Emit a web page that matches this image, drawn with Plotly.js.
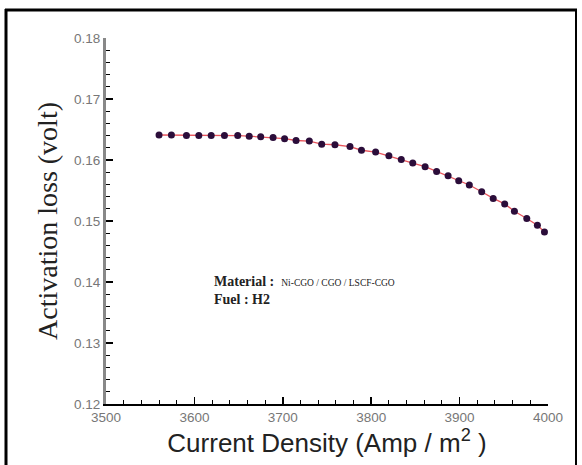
<!DOCTYPE html>
<html>
<head>
<meta charset="utf-8">
<script src="https://cdn.plot.ly/plotly-3.0.1.min.js"></script>
<style>html,body{margin:0;padding:0;background:#fff;}#chart{width:582px;height:465px;}</style>
</head>
<body>
<div id="chart"></div>
<script>
const currentDensity = [3560, 3574, 3591, 3605, 3619, 3634, 3649, 3662, 3675, 3689, 3702, 3715, 3730, 3744, 3759, 3776, 3789, 3805, 3820, 3834, 3847, 3861, 3874, 3887, 3899, 3911, 3925, 3938, 3951, 3962, 3976, 3988, 3996];
const activationLoss = [0.1641, 0.1641, 0.1640, 0.1640, 0.1640, 0.1640, 0.1640, 0.1639, 0.1638, 0.1637, 0.1635, 0.1632, 0.1631, 0.1626, 0.1625, 0.1622, 0.1616, 0.1613, 0.1607, 0.1601, 0.1595, 0.1589, 0.1581, 0.1574, 0.1566, 0.1559, 0.1548, 0.1537, 0.1528, 0.1516, 0.1504, 0.1493, 0.1482];
const xTicks = [3500, 3600, 3700, 3800, 3900, 4000];
const yTicks = [0.12, 0.13, 0.14, 0.15, 0.16, 0.17, 0.18];
const yTickLabels = ["0.12", "0.13", "0.14", "0.15", "0.16", "0.17", "0.18"];
const noteLines = [
  "<b>Material :</b>  <span style='font-size:9.5px'>Ni-CGO / CGO / LSCF-CGO</span>",
  "<b>Fuel : H2</b>"
];

const W = 582, H = 465, L = 106, R = 34, T = 38, B = 61;
const pw = W - L - R, ph = H - T - B;
const px = v => (v - L) / pw;
const py = v => (H - B - v) / ph;

const trace = {
  x: currentDensity, y: activationLoss, type: 'scatter', mode: 'lines+markers',
  line: {color: '#e8545c', width: 1.3},
  marker: {color: '#2b0d3a', size: 7},
  hoverinfo: 'skip', showlegend: false
};

const layout = {
  width: W, height: H,
  margin: {l: L, r: R, t: T, b: B, pad: 0},
  paper_bgcolor: '#fff', plot_bgcolor: '#fff',
  showlegend: false,
  xaxis: {
    range: [3500, 4000], tickvals: xTicks, ticktext: xTicks.map(String),
    showgrid: false, zeroline: false, showline: true, linecolor: '#000', linewidth: 2,
    ticks: 'inside', ticklen: 7, tickwidth: 1.5, tickcolor: '#000',
    minor: {ticks: 'inside', ticklen: 4, tickwidth: 1, tickcolor: '#000', dtick: 20},
    tickfont: {family: 'Liberation Sans, Arial', size: 13.5, color: '#777'},
    title: {text: 'Current Density (Amp / m<sup>2</sup> )', font: {family: 'Liberation Sans, Arial', size: 26, color: '#222'}, standoff: 0}
  },
  yaxis: {
    range: [0.12, 0.18], tickvals: yTicks, ticktext: yTickLabels,
    showgrid: false, zeroline: false, showline: true, linecolor: '#888', linewidth: 3,
    ticks: 'inside', ticklen: 7, tickwidth: 1.5, tickcolor: '#000',
    minor: {ticks: 'inside', ticklen: 4, tickwidth: 1, tickcolor: '#000', dtick: 0.002},
    tickfont: {family: 'Liberation Sans, Arial', size: 13.5, color: '#777'},
    title: {text: 'Activation loss (volt)', font: {family: 'Liberation Serif, Times New Roman', size: 28, color: '#222'}, standoff: 9}
  },
  annotations: [
    {xref: 'paper', yref: 'paper', x: px(212), y: py(281), xanchor: 'left', yanchor: 'middle', showarrow: false,
     text: noteLines[0], font: {family: 'Liberation Serif, Times New Roman', size: 14, color: '#222'}},
    {xref: 'paper', yref: 'paper', x: px(212), y: py(299), xanchor: 'left', yanchor: 'middle', showarrow: false,
     text: noteLines[1], font: {family: 'Liberation Serif, Times New Roman', size: 14, color: '#222'}}
  ],
  shapes: [
    {type: 'line', xref: 'paper', yref: 'paper', x0: px(6), x1: px(6), y0: py(9), y1: py(470), line: {color: '#000', width: 3}},
    {type: 'line', xref: 'paper', yref: 'paper', x0: px(5), x1: px(577), y0: py(10), y1: py(10), line: {color: '#000', width: 3}},
    {type: 'line', xref: 'paper', yref: 'paper', x0: px(576), x1: px(576), y0: py(9), y1: py(470), line: {color: '#000', width: 2}}
  ]
};

Plotly.newPlot('chart', [trace], layout, {staticPlot: true, displayModeBar: false});
</script>
</body>
</html>
